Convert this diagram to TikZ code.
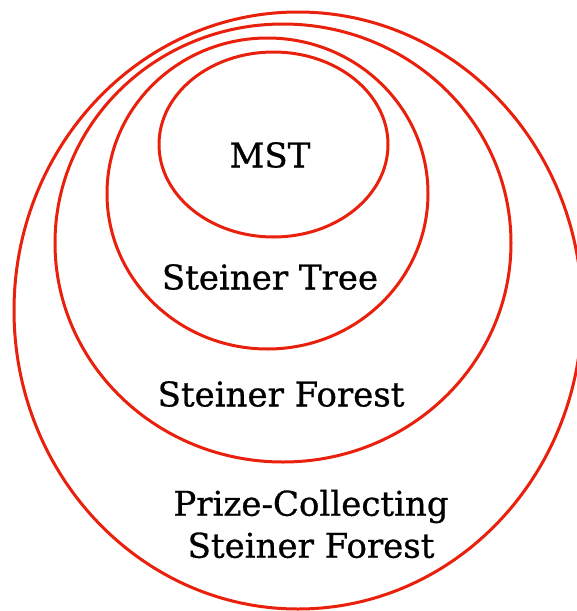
\documentclass[tikz,border=0pt]{standalone}
\usepackage{fontspec}
\setmainfont{DejaVu Serif}
\newfontfamily\lblfont{DejaVu Serif}[FakeBold=0.8]
\definecolor{ringred}{RGB}{232,32,12}
\begin{document}
\begin{tikzpicture}[x=1pt,y=-1pt,
  ring/.style={draw=ringred,line width=3pt},
  lbl/.style={font=\lblfont\fontsize{34}{42}\selectfont,align=center,text=black,inner sep=0pt}]
\useasboundingbox (0,0) rectangle (577,611);
\clip (0,0) rectangle (577,611);
\draw[ring] (298,310.5) ellipse [x radius=284,y radius=298.5];
\draw[ring] (283,243) ellipse [x radius=228,y radius=219];
\draw[ring] (267.5,193.5) ellipse [x radius=160.5,y radius=155.5];
\draw[ring] (273.5,144.5) ellipse [x radius=114.5,y radius=92.5];
\node[lbl] (mst) at (270,155) {MST};
\node[lbl] (st) at (270,277) {Steiner Tree};
\node[lbl] (sf) at (281,394) {Steiner Forest};
\node[lbl] (pcsf) at (311,524) {Prize-Collecting\\Steiner Forest};
\end{tikzpicture}
\end{document}
